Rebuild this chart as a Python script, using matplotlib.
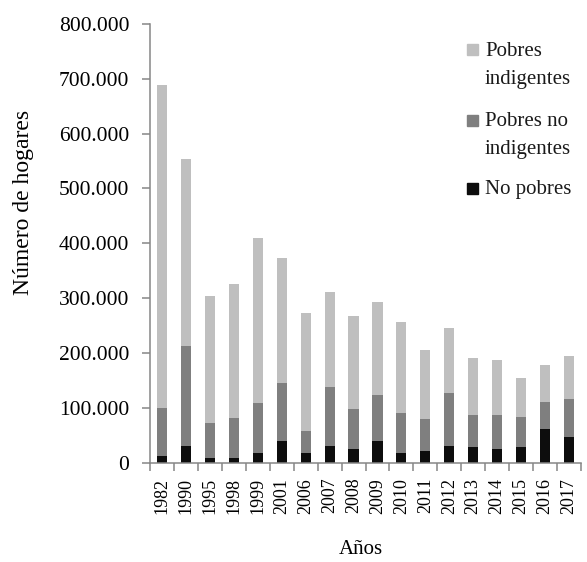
import matplotlib.pyplot as plt
from matplotlib.patches import Rectangle
from matplotlib.ticker import FuncFormatter, FixedLocator
import numpy as np

plt.rcParams['font.family'] = ['Liberation Serif', 'DejaVu Serif']

# data (thousands of households)
years = ['1982', '1990', '1995', '1998', '1999', '2001', '2006', '2007', '2008',
         '2009', '2010', '2011', '2012', '2013', '2014', '2015', '2016', '2017']
totals = [688, 554, 304, 326, 410, 374, 272, 311, 268,
          293, 256, 205, 246, 190, 187, 155, 177, 195]
dark_tops = [100, 213, 72, 82, 108, 145, 57, 137, 97,
             123, 90, 79, 126, 86, 86, 83, 111, 115]
no_pobres = [12, 31, 9, 9, 17, 39, 17, 31, 24,
             39, 17, 21, 31, 28, 24, 28, 61, 46]

no_pobres = np.array(no_pobres) * 1000
pobres_no_indig = np.array(dark_tops) * 1000 - no_pobres
pobres_indig = np.array(totals) * 1000 - np.array(dark_tops) * 1000

c_light = '#bfbfbf'
c_dark = '#7f7f7f'
c_black = '#0d0d0d'
axis_gray = '#868686'

W, H = 587, 562
fig = plt.figure(figsize=(W / 100, H / 100), dpi=100)
ax = fig.add_axes([150 / W, 1 - 462.5 / H, 431 / W, 438.5 / H])

x = np.arange(len(years))
bw = 0.42
ax.bar(x, no_pobres, bw, color=c_black)
ax.bar(x, pobres_no_indig, bw, bottom=no_pobres, color=c_dark)
ax.bar(x, pobres_indig, bw, bottom=no_pobres + pobres_no_indig, color=c_light)

ax.set_xlim(-0.5, len(years) - 0.5)
ax.set_ylim(0, 800000)
ax.set_yticks(np.arange(0, 800001, 100000))
ax.yaxis.set_major_formatter(FuncFormatter(lambda v, p: f'{v:,.0f}'.replace(',', '.')))

ax.set_xticks(x)
ax.set_xticklabels(years, rotation=90, fontsize=13)
ax.xaxis.set_minor_locator(FixedLocator(np.arange(-0.5, len(years), 1.0)))
ax.tick_params(axis='x', which='major', length=0, pad=11)
ax.tick_params(axis='x', which='minor', length=6, width=1.1, color=axis_gray)
ax.tick_params(axis='y', length=6, width=1.1, color=axis_gray, labelsize=15.5, pad=9)

for s in ['top', 'right']:
    ax.spines[s].set_visible(False)
for s in ['left', 'bottom']:
    ax.spines[s].set_color(axis_gray)
    ax.spines[s].set_linewidth(1.1)

ax.set_ylabel('Número de hogares', fontsize=17)
ax.yaxis.set_label_coords(-0.27, 0.594)
ax.set_xlabel('Años', fontsize=15)
ax.xaxis.set_label_coords(0.49, -0.177)

# legend drawn by hand so the squares sit on the first line of each label
legend_items = [('Pobres\nindigentes', c_light, 49.5),
                ('Pobres no\nindigentes', c_dark, 120),
                ('No pobres', c_black, 188)]
for label, col, yc in legend_items:
    fig.add_artist(Rectangle(((467) / W, 1 - (yc + 5.5) / H), 11 / W, 11 / H,
                             transform=fig.transFigure, color=col))
    fig.text(485 / W, 1 - (yc - 8) / H, label, fontsize=15, va='top',
             ha='left', color='#1a1a1a', linespacing=1.65)

fig.savefig('out.png', dpi=100)
